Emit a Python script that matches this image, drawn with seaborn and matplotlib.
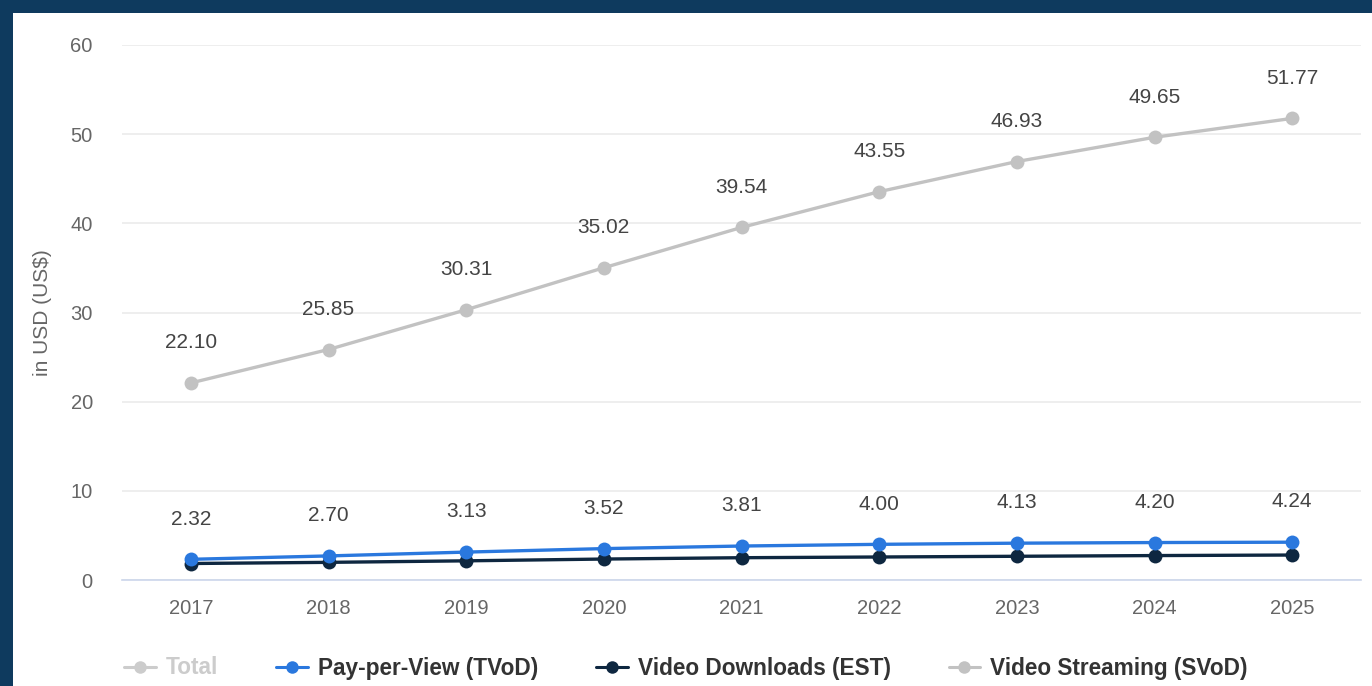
import matplotlib
matplotlib.use("Agg")
import matplotlib.pyplot as plt
from matplotlib.lines import Line2D
from matplotlib.patches import Rectangle
import seaborn as sns
import pandas as pd

years = [2017, 2018, 2019, 2020, 2021, 2022, 2023, 2024, 2025]
svod = [22.10, 25.85, 30.31, 35.02, 39.54, 43.55, 46.93, 49.65, 51.77]
tvod = [2.32, 2.70, 3.13, 3.52, 3.81, 4.00, 4.13, 4.20, 4.24]
est = [1.85, 1.98, 2.15, 2.35, 2.50, 2.58, 2.66, 2.74, 2.80]
y_ticks = [0, 10, 20, 30, 40, 50, 60]
legend_labels = ["Total", "Pay-per-View (TVoD)", "Video Downloads (EST)", "Video Streaming (SVoD)"]

C_SVOD = "#c2c2c2"
C_TVOD = "#2a78de"
C_EST = "#0e2740"
C_TOTAL = "#cccccc"

df = pd.DataFrame({
    "year": years * 3,
    "value": svod + tvod + est,
    "series": ["Video Streaming (SVoD)"] * 9 + ["Pay-per-View (TVoD)"] * 9 + ["Video Downloads (EST)"] * 9,
})

sns.set_theme(style="white")
plt.rcParams["font.family"] = ["Liberation Sans", "DejaVu Sans"]

W, H = 1372, 686
fig = plt.figure(figsize=(W / 100, H / 100), dpi=100)
fig.patch.set_facecolor("#0e3a5e")
fig.patches.append(Rectangle((13 / W, 0), 1 - 13 / W, 1 - 13 / H, transform=fig.transFigure,
                             facecolor="white", edgecolor="none", zorder=-10))

ax = fig.add_axes([122 / W, 106 / H, 1239 / W, 535 / H])
ax.set_zorder(5)
ax.set_facecolor("none")

palette = {"Video Streaming (SVoD)": C_SVOD, "Pay-per-View (TVoD)": C_TVOD, "Video Downloads (EST)": C_EST}
sns.lineplot(data=df, x="year", y="value", hue="series", palette=palette,
             hue_order=["Video Streaming (SVoD)", "Video Downloads (EST)", "Pay-per-View (TVoD)"],
             marker="o", markersize=10, markeredgewidth=0, linewidth=2.4, legend=False, ax=ax)

for x, v in zip(years, svod):
    ax.annotate(f"{v:.2f}", (x, v), xytext=(0, 29), textcoords="offset points",
                ha="center", va="center", fontsize=15, color="#444444")
for x, v in zip(years, tvod):
    ax.annotate(f"{v:.2f}", (x, v), xytext=(0, 29), textcoords="offset points",
                ha="center", va="center", fontsize=15, color="#444444")

ax.set_xlim(2016.5, 2025.5)
ax.set_ylim(0, 60)
ax.set_yticks(y_ticks)
ax.set_xticks(years)
ax.set_xticklabels([str(y) for y in years])
ax.tick_params(axis="both", length=0, labelsize=14.5, labelcolor="#666666")
ax.tick_params(axis="y", pad=21)
ax.tick_params(axis="x", pad=14)
ax.grid(axis="y", color="#ebebeb", linewidth=1.2)
ax.grid(axis="x", visible=False)
for s in ["top", "right", "left"]:
    ax.spines[s].set_visible(False)
ax.spines["bottom"].set_color("#ccd6eb")
ax.spines["bottom"].set_linewidth(1.2)
ax.set_xlabel("")
ax.set_ylabel("in USD (US$)", fontsize=15, color="#666666", labelpad=13)

handles = [
    Line2D([], [], color=C_TOTAL, marker="o", markersize=9, linewidth=2.2, markeredgewidth=0),
    Line2D([], [], color=C_TVOD, marker="o", markersize=9, linewidth=2.2, markeredgewidth=0),
    Line2D([], [], color=C_EST, marker="o", markersize=9, linewidth=2.2, markeredgewidth=0),
    Line2D([], [], color=C_SVOD, marker="o", markersize=9, linewidth=2.2, markeredgewidth=0),
]
leg = fig.legend(handles, legend_labels, loc="center", bbox_to_anchor=(0.5, 1 - 668 / H), ncol=4,
                 frameon=False, prop={"size": 16.3, "weight": "bold"}, handlelength=1.4,
                 handletextpad=0.45, columnspacing=2.55)
for i, t in enumerate(leg.get_texts()):
    t.set_color("#cccccc" if i == 0 else "#333333")

fig.savefig("out.png", dpi=100)
